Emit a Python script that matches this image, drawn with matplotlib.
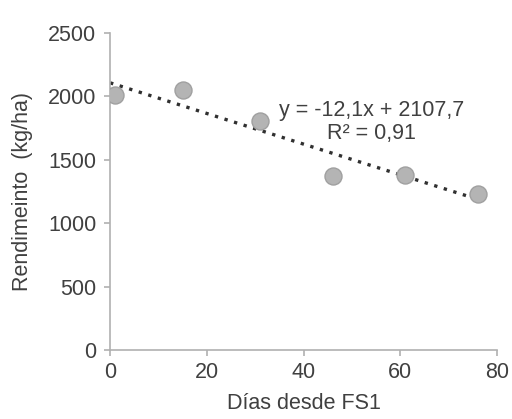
import numpy as np
import matplotlib.pyplot as plt

# data
dias = [1, 15, 31, 46, 61, 76]
rendimiento = [2010, 2050, 1810, 1370, 1380, 1230]
pendiente = -12.1
intercepto = 2107.7

plt.rcParams['font.family'] = ['Liberation Sans', 'DejaVu Sans']
txt = '#404040'
fs = 15.5

fig = plt.figure(figsize=(5.12, 4.19), dpi=100)
ax = fig.add_axes([0.215, 0.165, 0.756, 0.756])

ax.scatter(dias, rendimiento, s=150, color='#b4b4b4', edgecolors='#a0a0a0',
           linewidths=1, zorder=3)

# linear trend
xt = np.array([0, dias[-1]])
ax.plot(xt, pendiente * xt + intercepto, color='#303030', linestyle=(0, (1, 2)),
        linewidth=2.4, zorder=2)

ax.text(54, 1800, 'y = -12,1x + 2107,7\nR² = 0,91', ha='center', va='center',
        fontsize=fs, color=txt, linespacing=1.1)

ax.set_xlim(0, 80)
ax.set_ylim(0, 2500)
ax.set_xticks([0, 20, 40, 60, 80])
ax.set_yticks([0, 500, 1000, 1500, 2000, 2500])
for s in ['top', 'right']:
    ax.spines[s].set_visible(False)
for s in ['left', 'bottom']:
    ax.spines[s].set_color('#b0b0b0')
    ax.spines[s].set_linewidth(1.2)
ax.tick_params(colors='#b0b0b0', labelcolor=txt, labelsize=fs, length=4, width=1.2)
ax.tick_params(axis='y', pad=6)
ax.tick_params(axis='x', pad=5)

ax.set_xlabel('Días desde FS1', fontsize=fs, color=txt, labelpad=7)
ax.set_ylabel('Rendimeinto  (kg/ha)', fontsize=fs, color=txt, labelpad=11)

fig.savefig('out.png', dpi=100)
